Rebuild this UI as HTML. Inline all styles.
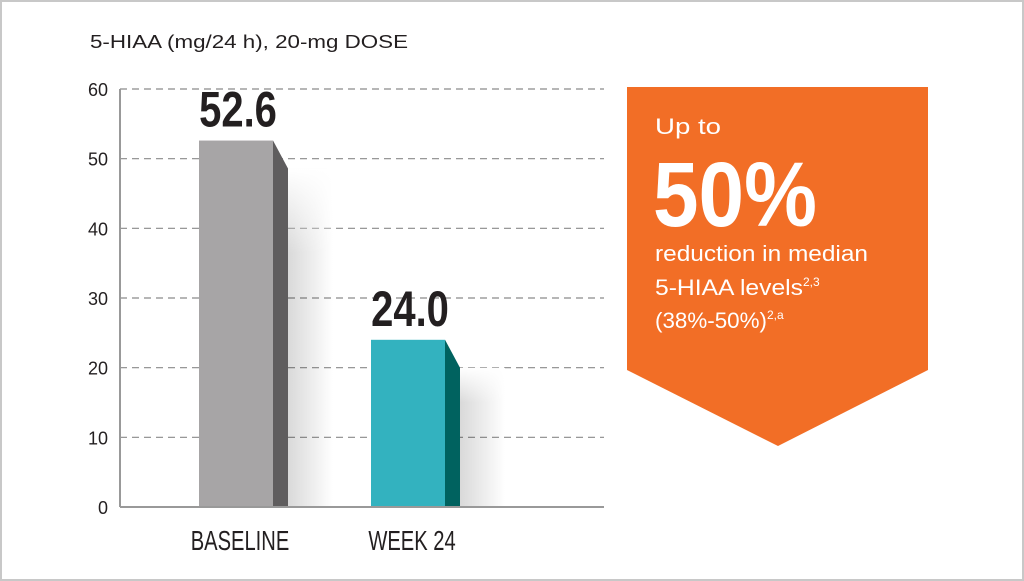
<!DOCTYPE html>
<html><head><meta charset="utf-8"><style>
html,body{margin:0;padding:0;background:#fff}
svg{display:block}
text{font-family:"Liberation Sans",sans-serif}
</style></head><body>
<svg id="chart" width="1024" height="581" viewBox="0 0 1024 581">
<defs>
<linearGradient id="sh" x1="0" x2="1" y1="0" y2="0">
<stop offset="0" stop-color="#000" stop-opacity="0.15"/><stop offset="1" stop-color="#000" stop-opacity="0"/>
</linearGradient>
<linearGradient id="shv" x1="0" x2="0" y1="0" y2="1">
<stop offset="0" stop-color="#fff" stop-opacity="1"/><stop offset="0.25" stop-color="#fff" stop-opacity="0"/>
</linearGradient>
</defs>
<rect x="1" y="1" width="1022" height="579" fill="#fff" stroke="#c8c8c8" stroke-width="2"/>
<text x="90" y="48" font-size="18" fill="#231f20" textLength="318" lengthAdjust="spacingAndGlyphs">5-HIAA (mg/24 h), 20-mg DOSE</text>
<g id="grid"></g>
<g id="bars"></g>
<line x1="120" y1="89" x2="120" y2="507" stroke="#999" stroke-width="2"/>
<line x1="120" y1="507" x2="604" y2="507" stroke="#999" stroke-width="2"/>
<g>
<polygon points="627,87 928,87 928,370 778,446 627,370" fill="#f26e26"/>
<text x="655" y="134" font-size="22" fill="#fff" textLength="66" lengthAdjust="spacingAndGlyphs">Up to</text>
<text transform="translate(653,226) scale(0.89,1)" x="0" y="0" font-size="92" font-weight="bold" fill="#fff">50%</text>
<text x="655" y="261" font-size="22" fill="#fff" textLength="213" lengthAdjust="spacingAndGlyphs">reduction in median</text>
<text x="655" y="295" font-size="22" fill="#fff"><tspan textLength="148" lengthAdjust="spacingAndGlyphs">5-HIAA levels</tspan><tspan font-size="12" dy="-9">2,3</tspan></text>
<text x="655" y="328" font-size="22" fill="#fff"><tspan textLength="112" lengthAdjust="spacingAndGlyphs">(38%-50%)</tspan><tspan font-size="12" dy="-9">2,a</tspan></text>
</g>
</svg>
<script>
const categories = ["BASELINE", "WEEK 24"];
const values = [52.6, 24.0];
const valueLabels = ["52.6", "24.0"];
const ticks = [0, 10, 20, 30, 40, 50, 60];
const ns = "http://www.w3.org/2000/svg";
const y0 = 507, yTop = 89, ymax = 60;
function y(v){ return y0 - (v / ymax) * (y0 - yTop); }
function xc(i){ return 236 + i * 172; }
const grid = document.getElementById('grid');
const bars = document.getElementById('bars');
function mk(tag, attrs, parent){ const e=document.createElementNS(ns,tag); for(const k in attrs) e.setAttribute(k,attrs[k]); parent.appendChild(e); return e; }
ticks.forEach(t => {
  if (t > 0) {
    const l = mk('line', {x1:120, x2:604, y1:y(t), y2:y(t), stroke:'#8a8a8a', 'stroke-width':1.2, 'stroke-dasharray':'7,5'}, grid);
    
    
  }
  const tx = mk('text', {x:108, y:y(t)+7, 'font-size':18, fill:'#231f20', 'text-anchor':'end'}, grid);
  tx.textContent = t;
  
  
});
const front = ['#a7a5a6', '#33b2bf'], side = ['#5f5d5e', '#00625f'];
values.forEach((v, i) => {
  const cx = xc(i), l = cx - 37, r = cx + 37, yt = y(v);
  const s = mk('rect', {x:r+15, y:yt+28, width:45, height:y0-yt-28, fill:'url(#sh)'}, bars);
  
  
  const s2 = mk('rect', {x:r+15, y:yt+28, width:45, height:y0-yt-28, fill:'url(#shv)'}, bars);
  
  
  const f = mk('rect', {x:l, y:yt, width:74, height:y0-yt, fill:front[i]}, bars);
  
  
  const sd = mk('polygon', {points:`${r},${yt} ${r+15},${yt+28} ${r+15},${y0} ${r},${y0}`, fill:side[i]}, bars);
  
  
  const vl = mk('text', {x:0, y:0, transform:`translate(${cx+2},${yt-14}) scale(0.8,1)`, 'font-size':50, 'font-weight':'bold', fill:'#231f20', 'text-anchor':'middle'}, bars);
  vl.textContent = valueLabels[i];
  
  
  const cl = mk('text', {x:0, y:0, transform:`translate(${cx+4},550) scale(0.72,1)`, 'font-size':28, fill:'#231f20', 'text-anchor':'middle'}, bars);
  cl.textContent = categories[i];
  
  
});
</script>
</body></html>
